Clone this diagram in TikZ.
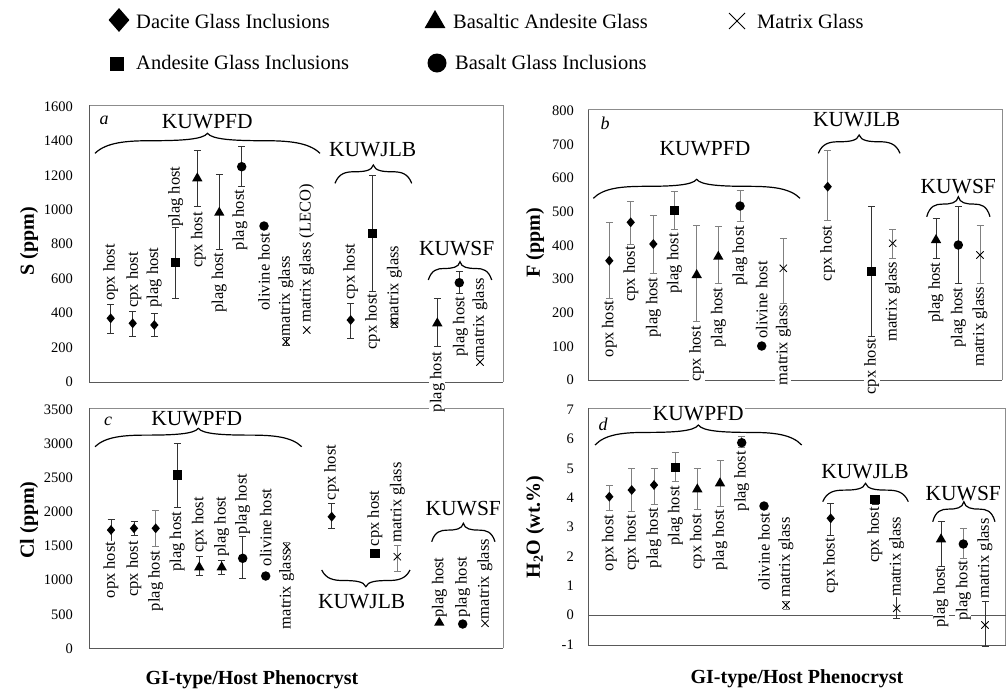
\documentclass[tikz,border=0pt]{standalone}
\usepackage{fontspec}
\setmainfont{Liberation Serif}
\usetikzlibrary{shapes.geometric,shapes.misc}
\definecolor{frm}{gray}{0.55}
\definecolor{axc}{gray}{0.35}
\definecolor{ebd}{gray}{0.2}
\definecolor{ebl}{gray}{0.5}
\newcommand\ebar[4][ebd]{\draw[draw=#1,line width=0.9pt] ({#2-3.5},#3) -- ({#2+3.5},#3) (#2,#3) -- (#2,#4) ({#2-3.5},#4) -- ({#2+3.5},#4);}
\newcommand\mk[4]{\node[#1] (#2) at (#3,#4) {};}
\newcommand\lb[4]{\node[lbl] (#1) at (#2,#3) {#4};}
\newcommand\hbrace[4]{%
 \pgfmathsetmacro\BRxm{(#1+#2)/2}%
 \pgfmathsetmacro\BRh{(#2-#1)/2}%
 \pgfmathsetmacro\BRya{#3-0.55*(#4)}%
 \pgfmathsetmacro\BRyb{#3-0.63*(#4)}%
 \pgfmathsetmacro\BRyc{#3-0.68*(#4)}%
 \pgfmathsetmacro\BRyt{#3-(#4)}%
 \pgfmathsetmacro\BRxa{#1+0.1*\BRh}%
 \pgfmathsetmacro\BRxb{#1+0.28*\BRh}%
 \pgfmathsetmacro\BRxc{#1+0.5*\BRh}%
 \pgfmathsetmacro\BRxd{\BRxm-0.25*\BRh}%
 \pgfmathsetmacro\BRxe{\BRxm-0.04*\BRh}%
 \pgfmathsetmacro\BRXa{#2-0.1*\BRh}%
 \pgfmathsetmacro\BRXb{#2-0.28*\BRh}%
 \pgfmathsetmacro\BRXc{#2-0.5*\BRh}%
 \pgfmathsetmacro\BRXd{\BRxm+0.25*\BRh}%
 \pgfmathsetmacro\BRXe{\BRxm+0.04*\BRh}%
 \draw[br] (#1,#3) .. controls (\BRxa,\BRya) and (\BRxb,\BRyb) .. (\BRxc,\BRyb)
   .. controls (\BRxd,\BRyb) and (\BRxe,\BRyc) .. (\BRxm,\BRyt)
   .. controls (\BRXe,\BRyc) and (\BRXd,\BRyb) .. (\BRXc,\BRyb)
   .. controls (\BRXb,\BRyb) and (\BRXa,\BRya) .. (#2,#3);}
\begin{document}
\begin{tikzpicture}[x=1pt,y=-1pt,
  lbl/.style={rotate=90,fill=white,inner sep=0.6pt,font=\fontsize{16.5}{18}\selectfont},
  grp/.style={inner sep=0pt,font=\fontsize{21.5}{24}\selectfont},
  tck/.style={anchor=east,inner sep=0pt,font=\fontsize{14.5}{16}\selectfont},
  ttl/.style={inner sep=0pt,font=\bfseries\fontsize{20}{22}\selectfont},
  leg/.style={anchor=west,inner sep=0pt,font=\fontsize{20.5}{23}\selectfont},
  br/.style={line width=1.2pt,black},
  frame/.style={draw=frm,line width=0.8pt},
  ax/.style={draw=axc,line width=0.9pt},
  mdia/.style={diamond,fill=black,inner sep=0pt,minimum width=8.5pt,minimum height=10pt},
  msq/.style={rectangle,fill=black,inner sep=0pt,minimum size=9.5pt},
  mtri/.style={regular polygon,regular polygon sides=3,fill=black,inner sep=0pt,minimum size=12pt},
  mcir/.style={circle,fill=black,inner sep=0pt,minimum size=9.5pt},
  mx/.style={cross out,draw=black,line width=0.8pt,inner sep=0pt,minimum size=6.5pt}]
\useasboundingbox (0,0) rectangle (1008,694);
\fill[white] (0,0) rectangle (1008,694);
% ---------- legend ----------
\node[diamond,fill=black,inner sep=0pt,minimum width=21pt,minimum height=24pt] (lg1) at (119,20) {};
\node[leg] (lg1t) at (136,21) {Dacite Glass Inclusions};
\node[regular polygon,regular polygon sides=3,fill=black,inner sep=0pt,minimum size=24pt] (lg2) at (435,22) {};
\node[leg] (lg2t) at (453,21) {Basaltic Andesite Glass};
\node[cross out,draw=black,line width=1pt,inner sep=0pt,minimum size=15pt] (lg3) at (737,21) {};
\node[leg] (lg3t) at (757,21) {Matrix Glass};
\node[rectangle,fill=black,inner sep=0pt,minimum size=14pt] (lg4) at (117,64) {};
\node[leg] (lg4t) at (136,62) {Andesite Glass Inclusions};
\node[circle,fill=black,inner sep=0pt,minimum size=19pt] (lg5) at (437,63) {};
\node[leg] (lg5t) at (455,62) {Basalt Glass Inclusions};
% ---------- frames ----------
\draw[frame] (89,105) -- (503,105) -- (503,382);
\draw[ax] (89,105) -- (89,382) -- (503,382);
\draw[frame] (588,109.5) -- (1002,109.5) -- (1002,380);
\draw[ax] (588,109.5) -- (588,380) -- (1002,380);
\draw[frame] (89.5,408) -- (503,408) -- (503,648);
\draw[ax] (89.5,408) -- (89.5,648) -- (503,648);
\draw[frame] (588,408) -- (1005.5,408) -- (1005.5,645);
\draw[ax] (588,408) -- (588,645) -- (1005.5,645);
\draw[ax] (588,615) -- (1005.5,615);
% ---------- tick labels ----------
\foreach \v in {0,200,...,1600} \node[tck] at (73,{381.7-\v*0.17188}) {\v};
\foreach \v in {0,100,...,800} \node[tck] at (574,{380-\v*0.3366}) {\v};
\foreach \v in {0,500,...,3500} \node[tck] at (73,{648.3-\v*0.06809}) {\v};
\foreach \v in {-1,0,...,7} \node[tck] at (574,{615-\v*29.3}) {\v};
% ---------- axis titles ----------
\node[ttl,rotate=90] (ya) at (29,241) {S (ppm)};
\node[ttl,rotate=90] (yc) at (29,520) {Cl (ppm)};
\node[ttl,rotate=90] (yb) at (535,243) {F (ppm)};
\node[ttl,rotate=90] (yd) at (535,527) {H\textsubscript{2}O (wt.\%)};
\node[ttl] (xa) at (252,680) {GI-type/Host Phenocryst};
\node[ttl] (xd) at (797,679) {GI-type/Host Phenocryst};
% ---------- panel letters ----------
\node[font=\itshape\fontsize{18}{20}\selectfont,inner sep=0pt] (pa) at (104,120) {a};
\node[font=\itshape\fontsize{18}{20}\selectfont,inner sep=0pt] (pb) at (605,123) {b};
\node[font=\itshape\fontsize{18}{20}\selectfont,inner sep=0pt] (pc) at (108,421) {c};
\node[font=\itshape\fontsize{18}{20}\selectfont,inner sep=0pt] (pd) at (603,424) {d};
% ---------- braces ----------
\hbrace{95}{320}{153.3}{20}
\hbrace{335}{411.7}{183.3}{18.3}
\hbrace{428.3}{491.7}{280}{18.3}
\hbrace{593.3}{800}{198.3}{19}
\hbrace{818.3}{900}{153.3}{18.3}
\hbrace{926.7}{990}{216.7}{20}
\hbrace{95}{301.7}{446.7}{18.4}
\hbrace{321.7}{410}{570}{-16.7}
\hbrace{431.7}{495}{541.7}{18.4}
\hbrace{595}{801.7}{445}{20}
\hbrace{822.7}{908.3}{501.7}{18.4}
\hbrace{932.7}{995}{521.7}{20}
% ---------- group names ----------
\node[grp] (ga1) at (207.3,121.7) {KUWPFD};
\node[grp] (ga2) at (372.7,150) {KUWJLB};
\node[grp] (ga3) at (456.7,248.3) {KUWSF};
\node[grp] (gb1) at (705,148.3) {KUWPFD};
\node[grp] (gb2) at (856.7,120) {KUWJLB};
\node[grp] (gb3) at (958.3,186.7) {KUWSF};
\node[grp] (gc1) at (196.7,418.3) {KUWPFD};
\node[grp] (gc2) at (361.7,601.7) {KUWJLB};
\node[grp] (gc3) at (463.3,508.3) {KUWSF};
\node[grp,fill=white,inner sep=1.5pt] (gd1) at (698.3,413.3) {KUWPFD};
\node[grp] (gd2) at (865,471.7) {KUWJLB};
\node[grp] (gd3) at (963.3,493.3) {KUWSF};
% ---------- error bars: panel a ----------
\ebar{110.7}{304}{333.3}
\ebar{132.7}{311}{336.7}
\ebar{154.3}{313.3}{336.7}
\ebar{175.7}{227.3}{298.3}
\ebar{197.3}{150}{206.7}
\ebar{219.3}{174.3}{249.3}
\ebar{241.7}{146.7}{186.7}
\ebar{286}{337.7}{345.7}
\ebar{350.7}{303.3}{338.3}
\ebar{372.7}{175}{291.7}
\ebar{394.3}{319.3}{327.3}
\ebar{437.3}{298.3}{346.7}
\ebar{459.3}{271.7}{293.3}
% ---------- error bars: panel b ----------
\ebar[ebl]{609.3}{222.7}{298.3}
\ebar[ebl]{630.7}{201}{244}
\ebar[ebl]{653.3}{215}{273.3}
\ebar[ebl]{674.3}{191.7}{229.3}
\ebar[ebl]{696.7}{225}{321.7}
\ebar[ebl]{718.3}{226.7}{283.3}
\ebar[ebl]{740}{190}{221.7}
\ebar[ebl]{783.3}{238.3}{303.3}
\ebar[ebl]{827.7}{150}{220}
\ebar[ebd]{871.7}{206.7}{336.7}
\ebar[ebl]{892.7}{229.3}{258.3}
\ebar[ebd]{936}{218.3}{258.3}
\ebar[ebd]{958.3}{206.7}{283.3}
\ebar[ebl]{980}{225}{283.3}
% ---------- error bars: panel c ----------
\ebar{111}{519}{541}
\ebar{134}{521.7}{535}
\ebar[ebl]{155.7}{510}{546.7}
\ebar{177.3}{443.3}{507.7}
\ebar{199.3}{556.7}{575.7}
\ebar{221.7}{560}{574}
\ebar{242.7}{536.7}{578.3}
\ebar[ebl]{286.7}{542.7}{550.7}
\ebar{331.7}{503.3}{528.3}
\ebar[ebl]{397.3}{545}{571.7}
% ---------- error bars: panel d ----------
\ebar[ebl]{609.3}{485}{510}
\ebar[ebl]{631.7}{468.3}{511.7}
\ebar[ebl]{654}{468.3}{504}
\ebar[ebl]{675.3}{452.7}{481.7}
\ebar[ebl]{697.3}{468.3}{509.3}
\ebar[ebl]{720}{460.7}{506.7}
\ebar[ebl]{741.7}{436.7}{447.3}
\ebar[ebl]{786}{601}{609}
\ebar[ebd]{830.7}{503.3}{535}
\ebar[ebd]{875}{496}{504}
\ebar[ebd]{896.7}{596.7}{618.3}
\ebar[ebd]{941}{521.7}{566}
\ebar[ebl]{963.3}{528.3}{558.3}
\ebar[ebd]{985}{601.7}{646.7}
% ---------- labels: panel a ----------
\lb{la1}{110.7}{272.5}{opx host}
\lb{la2}{134}{280}{cpx host}
\lb{la3}{154.3}{277.5}{plag host}
\lb{la4}{175.7}{196.7}{plag host}
\lb{la5}{198.3}{240}{cpx host}
\lb{la6}{219.3}{282.5}{plag host}
\lb{la7}{240}{220}{plag host}
\lb{la8}{264}{271.7}{olivine host}
\lb{la9}{286}{296}{matrix glass}
\lb{la10}{306.7}{253.3}{matrix glass (LECO)}
\lb{la11}{350.7}{271.7}{cpx host}
\lb{la12}{372.7}{321.7}{cpx host}
\lb{la13}{394.3}{285.8}{matrix glass}
\lb{la14}{437.3}{382}{plag host}
\lb{la15}{460.5}{326.7}{plag host}
\lb{la16}{480}{318}{matrix glass}
% ---------- labels: panel b ----------
\lb{lb1}{609.3}{329}{opx host}
\lb{lb2}{631}{274}{cpx host}
\lb{lb3}{653.3}{307.5}{plag host}
\lb{lb4}{674.3}{263.3}{plag host}
\lb{lb5}{696.7}{354}{cpx host}
\lb{lb6}{718.3}{317.5}{plag host}
\lb{lb7}{740}{255.8}{plag host}
\lb{lb8}{761.7}{300}{olivine host}
\lb{lb9}{783.3}{345}{matrix glass}
\lb{lb10}{827.7}{253.3}{cpx host}
\lb{lb11}{871.7}{366.7}{cpx host}
\lb{lb12}{892.7}{301.7}{matrix glass}
\lb{lb13}{936}{292.5}{plag host}
\lb{lb14}{958.3}{317.5}{plag host}
\lb{lb15}{980}{326.7}{matrix glass}
% ---------- labels: panel c ----------
\lb{lc1}{111}{570}{opx host}
\lb{lc2}{134}{569}{cpx host}
\lb{lc3}{155.7}{581}{plag host}
\lb{lc4}{177.3}{541.7}{plag host}
\lb{lc5}{199.3}{525}{cpx host}
\lb{lc6}{221.7}{526.7}{plag host}
\lb{lc7}{242.7}{504}{plag host}
\lb{lc8}{265.7}{527.5}{olivine host}
\lb{lc9}{286.7}{589}{matrix glass}
\lb{lc10}{331.7}{472.5}{cpx host}
\lb{lc11}{375}{518.3}{cpx host}
\lb{lc12}{397.3}{502.5}{matrix glass}
\lb{lc13}{439.3}{587.5}{plag host}
\lb{lc14}{462.7}{587}{plag host}
\lb{lc15}{485}{579}{matrix glass}
% ---------- labels: panel d ----------
\lb{ld1}{609.3}{543}{opx host}
\lb{ld2}{631.7}{543}{cpx host}
\lb{ld3}{654}{538}{plag host}
\lb{ld4}{675.3}{515.8}{plag host}
\lb{ld5}{697.3}{541.7}{cpx host}
\lb{ld6}{720}{540}{plag host}
\lb{ld7}{741.7}{481.2}{plag host}
\lb{ld8}{764}{551.7}{olivine host}
\lb{ld9}{786}{557.5}{matrix glass}
\lb{ld10}{830.7}{565.8}{cpx host}
\lb{ld11}{875}{535}{cpx host}
\lb{ld12}{896.7}{556.7}{matrix glass}
\lb{ld13}{941}{597.5}{plag host}
\lb{ld14}{963.3}{590.8}{plag host}
\lb{ld15}{985}{558.3}{matrix glass}
% ---------- markers: panel a ----------
\mk{mdia}{a1}{110.7}{318.3}
\mk{mdia}{a2}{132.7}{323.3}
\mk{mdia}{a3}{154.3}{325}
\mk{msq}{a4}{175.7}{262.7}
\mk{mtri}{a5}{197.3}{178.3}
\mk{mtri}{a6}{219.3}{212.7}
\mk{mcir}{a7}{241.7}{166.7}
\mk{mcir}{a8}{264}{226}
\mk{mx}{a9}{286}{341.7}
\mk{mx}{a10}{306.7}{330}
\mk{mdia}{a11}{350.7}{320}
\mk{msq}{a12}{372.7}{233.3}
\mk{mx}{a13}{394.3}{323.3}
\mk{mtri}{a14}{437.3}{323.3}
\mk{mcir}{a15}{459.3}{282.7}
\mk{mx}{a16}{480}{362}
% ---------- markers: panel b ----------
\mk{mdia}{b1}{609.3}{260.7}
\mk{mdia}{b2}{630.7}{222.3}
\mk{mdia}{b3}{653.3}{244}
\mk{msq}{b4}{674.3}{210.7}
\mk{mtri}{b5}{696.7}{275}
\mk{mtri}{b6}{718.3}{256.7}
\mk{mcir}{b7}{740}{206}
\mk{mcir}{b8}{761.7}{346}
\mk{mx}{b9}{783.3}{268.3}
\mk{mdia}{b10}{827.7}{186.7}
\mk{msq}{b11}{871.7}{271.7}
\mk{mx}{b12}{892.7}{243.3}
\mk{mtri}{b13}{936}{240}
\mk{mcir}{b14}{958.3}{245}
\mk{mx}{b15}{980}{255}
% ---------- markers: panel c ----------
\mk{mdia}{c1}{111}{530}
\mk{mdia}{c2}{134}{528.3}
\mk{mdia}{c3}{155.7}{528.3}
\mk{msq}{c4}{177.3}{475}
\mk{mtri}{c5}{199.3}{567.3}
\mk{mtri}{c6}{221.7}{567.3}
\mk{mcir}{c7}{242.7}{558.3}
\mk{mcir}{c8}{265.7}{576}
\mk{mx}{c9}{286.7}{546.7}
\mk{mdia}{c10}{331.7}{516.7}
\mk{msq}{c11}{375}{553.3}
\mk{mx}{c12}{397.3}{556.7}
\mk{mtri}{c13}{439.3}{622.7}
\mk{mcir}{c14}{462.7}{624}
\mk{mx}{c15}{485}{623.3}
% ---------- markers: panel d ----------
\mk{mdia}{d1}{609.3}{496.7}
\mk{mdia}{d2}{631.7}{490}
\mk{mdia}{d3}{654}{485}
\mk{msq}{d4}{675.3}{467.3}
\mk{mtri}{d5}{697.3}{489.3}
\mk{mtri}{d6}{720}{483.3}
\mk{mcir}{d7}{741.7}{442.7}
\mk{mcir}{d8}{764}{506}
\mk{mx}{d9}{786}{605}
\mk{mdia}{d10}{830.7}{518.3}
\mk{msq}{d11}{875}{499.3}
\mk{mx}{d12}{896.7}{608.3}
\mk{mtri}{d13}{941}{539.3}
\mk{mcir}{d14}{963.3}{544}
\mk{mx}{d15}{985}{625}
\end{tikzpicture}
\end{document}
